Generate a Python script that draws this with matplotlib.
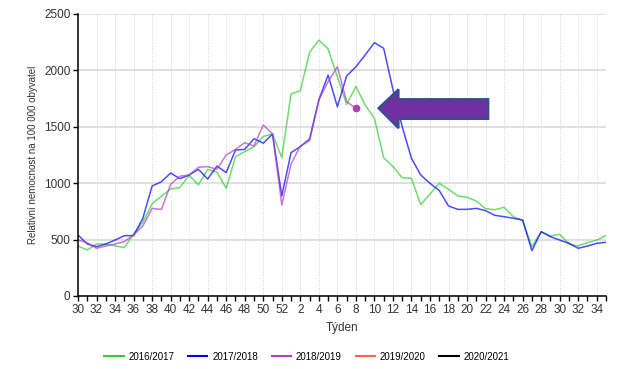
import numpy as np
import matplotlib
matplotlib.use("Agg")
import matplotlib.pyplot as plt
from matplotlib.patches import Polygon

plt.rcParams['font.family'] = ['Liberation Sans', 'DejaVu Sans']

# week axis: 30..52 then 1..35
weeks = list(range(30, 53)) + list(range(1, 36))

seasons = ["2016/2017", "2017/2018", "2018/2019", "2019/2020", "2020/2021"]
colors = ["#33CC33", "#0000FF", "#B040C0", "#FF6347", "#000000"]

s2016 = [443, 408, 461, 460, 445, 428, 550, 655, 818, 885, 948, 962, 1070, 984,
         1123, 1098, 955, 1235, 1280, 1324, 1415, 1436, 1226,
         1791, 1820, 2160, 2269, 2190, 1944, 1699, 1858, 1693, 1575, 1226, 1147,
         1049, 1043, 810, 904, 999, 946, 887, 875, 842, 774, 765, 786, 703, 668,
         437, 570, 532, 547, 461, 443, 473, 496, 535]
s2017 = [541, 461, 437, 461, 496, 535, 535, 689, 975, 1013, 1090, 1040, 1073, 1123,
         1037, 1152, 1094, 1294, 1300, 1395, 1355, 1436, 887,
         1271, 1324, 1392, 1738, 1959, 1678, 1950, 2033, 2137, 2246, 2196, 1830,
         1500, 1220, 1073, 999, 935, 798, 768, 768, 777, 756, 715, 703, 689, 674,
         402, 570, 526, 496, 467, 423, 443, 467, 476]
s2018 = [496, 473, 423, 443, 461, 482, 541, 621, 777, 768, 990, 1062, 1073, 1141,
         1147, 1123, 1250, 1300, 1359, 1330, 1516, 1436, 807,
         1170, 1330, 1377, 1738, 1900, 2033, 1723, 1664]
s2019 = []
s2020 = []

series = [s2016, s2017, s2018, s2019, s2020]

fig = plt.figure(figsize=(6.3, 3.69), dpi=100)
ax = fig.add_axes([78 / 630, 1 - 296 / 369, 528 / 630, 282 / 369])

for vals, col, name in zip(series, colors, seasons):
    xs = np.arange(len(vals))
    ax.plot(xs, vals, color=col, lw=1.1, alpha=0.7, label=name)

# last reported point of the current season
ax.plot(len(s2018) - 1, s2018[-1], 'o', color="#B040B0", ms=4.5, zorder=5)

# big arrow pointing at the last point (axes fraction coords)
arrow_pts = [(0.569, 0.666), (0.607, 0.733), (0.607, 0.698), (0.777, 0.698),
             (0.777, 0.628), (0.607, 0.628), (0.607, 0.595)]
arrow = Polygon(arrow_pts, closed=True, transform=ax.transAxes,
                facecolor="#7030A0", edgecolor="#2F528F", lw=1.6,
                joinstyle='miter', zorder=6)
ax.add_patch(arrow)

n = len(weeks)
ax.set_xlim(0, n - 1)
ax.set_ylim(0, 2500)
major = np.arange(0, n, 2)
ax.set_xticks(major)
ax.set_xticklabels([str(weeks[i]) for i in major])
ax.set_xticks(np.arange(1, n, 2), minor=True)
ax.set_yticks(np.arange(0, 2501, 500))

ax.grid(axis='y', color="#DADADA", lw=1.2, ls='-')
ax.grid(axis='x', which='major', color="#D0D0D0", lw=0.7, ls=':')
ax.set_axisbelow(True)

for s in ['top', 'right']:
    ax.spines[s].set_visible(False)
for s in ['left', 'bottom']:
    ax.spines[s].set_linewidth(1.1)
    ax.spines[s].set_color('black')

ax.tick_params(axis='both', which='both', length=3.5, width=1, color='black',
               labelsize=8.5, labelcolor='#333333', pad=2)

ax.set_xlabel("Týden", fontsize=8.5, color='#333333')
ax.xaxis.set_label_coords(0.5, -0.092)
ax.set_ylabel("Relativní nemocnost na 100 000 obyvatel", fontsize=7, color='#333333')
ax.yaxis.set_label_coords(-0.076, 0.5)

leg = fig.legend(loc='center', bbox_to_anchor=(0.487, 0.033), ncol=5, frameon=False,
                 fontsize=7, handlelength=2.0, columnspacing=1.4, handletextpad=0.5)
for h in leg.legend_handles:
    h.set_alpha(1)
    h.set_linewidth(1.5)

fig.savefig("out.png", dpi=100)
